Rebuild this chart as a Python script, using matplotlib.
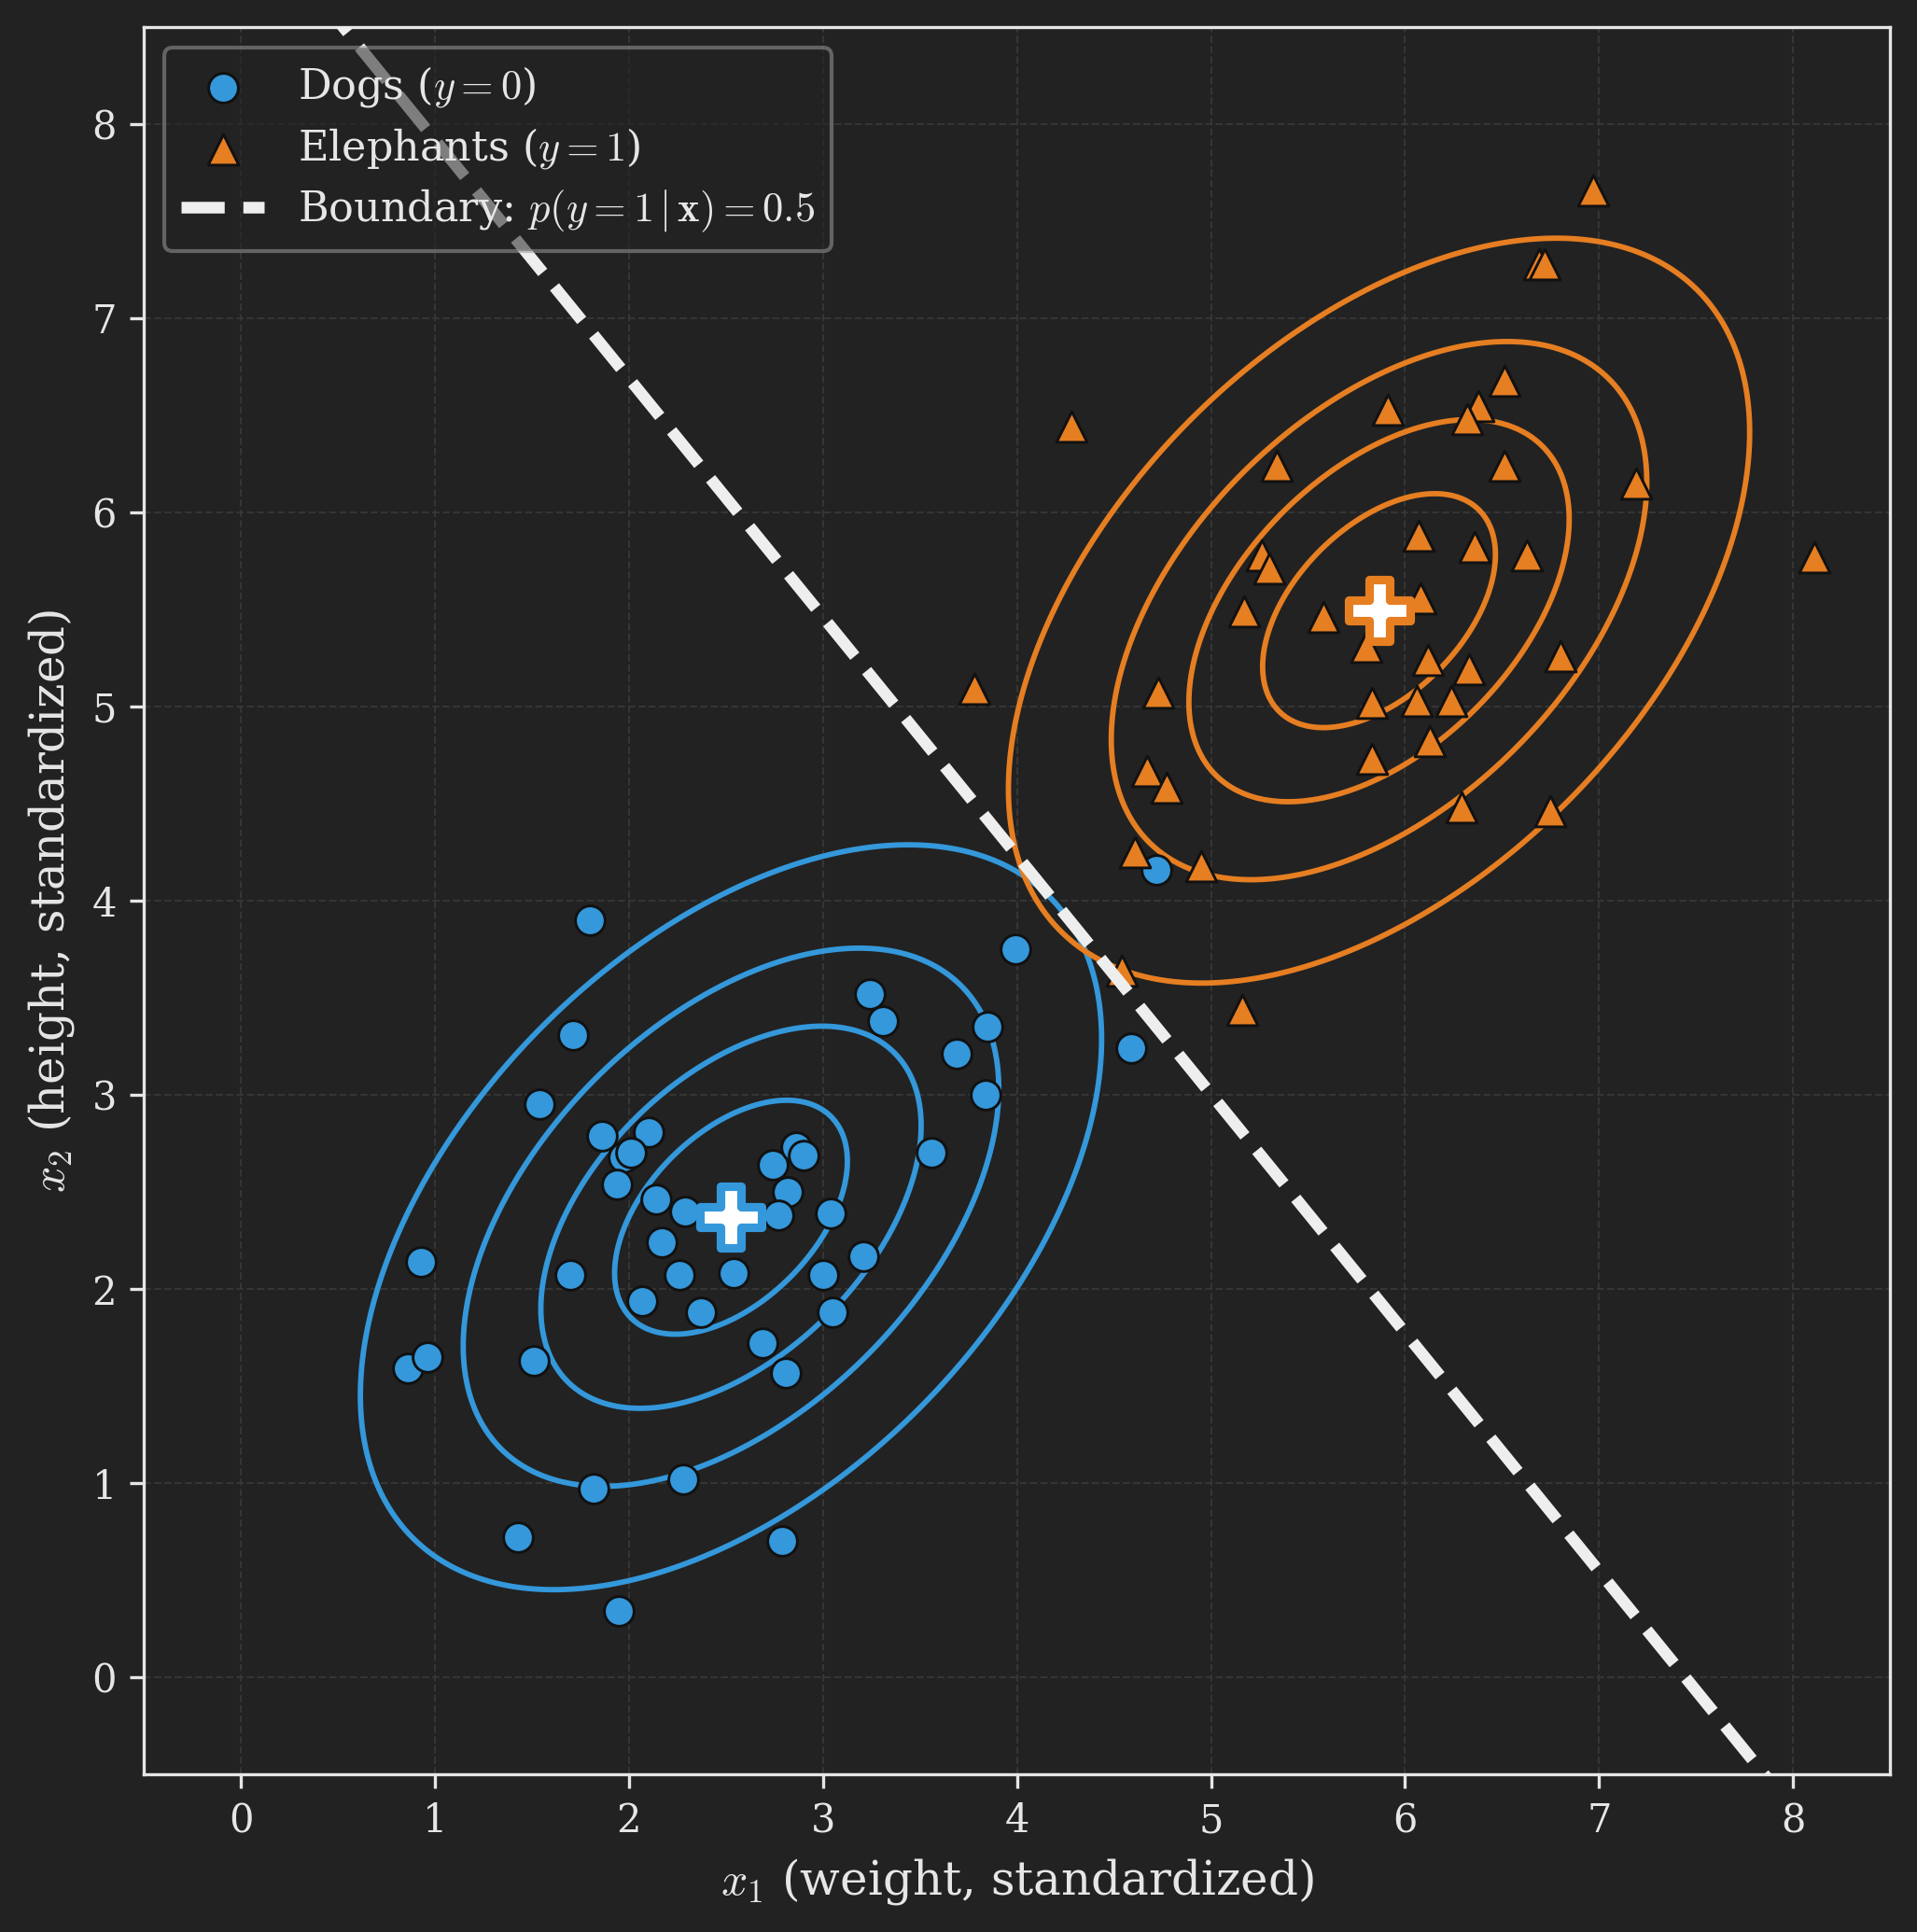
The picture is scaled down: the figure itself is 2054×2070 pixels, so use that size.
import numpy as np
import matplotlib
matplotlib.use("Agg")
import matplotlib.pyplot as plt

# points
dogs_x1 = [1.80, 1.71, 1.54, 1.86, 2.10, 1.97, 2.01, 1.94, 2.14, 2.29, 2.17, 2.26, 2.07, 2.37, 2.54,
           2.74, 2.86, 2.90, 2.82, 2.77, 3.04, 3.00, 3.05, 3.21, 2.69, 2.81, 3.56, 3.24, 3.31, 3.69,
           3.85, 3.84, 3.99, 4.59, 4.72, 1.70, 1.51, 0.93, 0.86, 0.96, 1.82, 2.28, 1.43, 2.79, 1.95]
dogs_x2 = [3.90, 3.31, 2.95, 2.79, 2.81, 2.68, 2.70, 2.54, 2.46, 2.40, 2.24, 2.07, 1.94, 1.88, 2.08,
           2.64, 2.73, 2.69, 2.50, 2.38, 2.39, 2.07, 1.88, 2.17, 1.72, 1.57, 2.70, 3.52, 3.38, 3.21,
           3.35, 3.00, 3.75, 3.24, 4.16, 2.07, 1.63, 2.14, 1.59, 1.65, 0.97, 1.02, 0.72, 0.70, 0.34]

eleph_x1 = [6.97, 6.69, 6.72, 4.28, 5.91, 6.38, 6.32, 6.51, 5.34, 6.51, 7.19, 6.07, 6.36, 6.63, 8.11,
            5.26, 5.30, 5.17, 5.58, 6.08, 5.80, 6.12, 6.33, 6.80, 3.78, 4.73, 5.83, 6.06, 6.24, 6.13,
            5.83, 4.67, 4.77, 6.29, 6.75, 4.61, 4.95, 4.54, 5.16]
eleph_x2 = [7.66, 7.28, 7.28, 6.44, 6.53, 6.55, 6.48, 6.68, 6.24, 6.24, 6.15, 5.88, 5.82, 5.78, 5.77,
            5.78, 5.71, 5.49, 5.46, 5.56, 5.31, 5.24, 5.19, 5.26, 5.09, 5.07, 5.02, 5.03, 5.03, 4.82,
            4.73, 4.67, 4.58, 4.48, 4.46, 4.25, 4.18, 3.64, 3.44]

# x1 half-widths of the density contours
contour_halfwidths = [0.60, 0.98, 1.38, 1.91]

BG = "#222222"
FG = "#e6e6e6"
BLUE = "#3498db"
ORANGE = "#e67e22"

plt.rcParams["font.family"] = ["DejaVu Serif"]
plt.rcParams["mathtext.fontset"] = "cm"

X0 = np.column_stack([dogs_x1, dogs_x2])
X1 = np.column_stack([eleph_x1, eleph_x2])
n0, n1 = len(X0), len(X1)
mu0 = X0.mean(axis=0)
mu1 = X1.mean(axis=0)
# pooled covariance (LDA)
S = ((X0 - mu0).T @ (X0 - mu0) + (X1 - mu1).T @ (X1 - mu1)) / (n0 + n1 - 2)
Si = np.linalg.inv(S)

w = Si @ (mu1 - mu0)
b = -0.5 * (mu1 @ Si @ mu1 - mu0 @ Si @ mu0) + np.log(n1 / n0)

fig = plt.figure(figsize=(2054 / 300, 2070 / 300), dpi=300, facecolor=BG)
ax = fig.add_axes([0.075, 0.0816, 0.911, 0.9044])
ax.set_facecolor(BG)

gx, gy = np.meshgrid(np.linspace(-0.5, 8.5, 400), np.linspace(-0.5, 8.5, 400))
levels = (np.array(contour_halfwidths) / np.sqrt(S[0, 0])) ** 2
for mu, col in [(mu0, BLUE), (mu1, ORANGE)]:
    dx = gx - mu[0]
    dy = gy - mu[1]
    q = Si[0, 0] * dx**2 + 2 * Si[0, 1] * dx * dy + Si[1, 1] * dy**2
    ax.contour(gx, gy, q, levels=levels, colors=col, linewidths=1.4, zorder=2)

ax.scatter(dogs_x1, dogs_x2, s=58, c=BLUE, edgecolors="#111111", linewidths=0.7,
           marker="o", zorder=3, label=r"Dogs ($y=0$)")
ax.scatter(eleph_x1, eleph_x2, s=62, c=ORANGE, edgecolors="#111111", linewidths=0.7,
           marker="^", zorder=3, label=r"Elephants ($y=1$)")

xs = np.linspace(-0.5, 8.5, 200)
ax.plot(xs, -(w[0] * xs + b) / w[1], "--", color="#eeeeee", lw=3, zorder=4,
        label=r"Boundary: $p(y=1\,|\,\mathbf{x})=0.5$")

for mu, col in [(mu0, BLUE), (mu1, ORANGE)]:
    ax.scatter([mu[0]], [mu[1]], s=250, marker="P", c="white", edgecolors=col,
               linewidths=2.2, zorder=5)

ax.set_xlim(-0.5, 8.5)
ax.set_ylim(-0.5, 8.5)
ax.set_xticks(range(0, 9))
ax.set_yticks(range(0, 9))
ax.grid(True, color="#3a3a3a", linestyle="--", linewidth=0.5, alpha=0.8)
ax.set_axisbelow(True)

for sp in ax.spines.values():
    sp.set_color(FG)
    sp.set_linewidth(0.8)
ax.tick_params(colors=FG, labelsize=10, length=3.5, width=0.8)
ax.set_xlabel(r"$x_1$ (weight, standardized)", color=FG, fontsize=12)
ax.set_ylabel(r"$x_2$ (height, standardized)", color=FG, fontsize=12)

leg = ax.legend(loc="upper left", fontsize=10.7, facecolor=BG, edgecolor="#999999",
                framealpha=0.55, labelcolor=FG, labelspacing=0.4)

fig.savefig("out.png", dpi=300, facecolor=BG)
